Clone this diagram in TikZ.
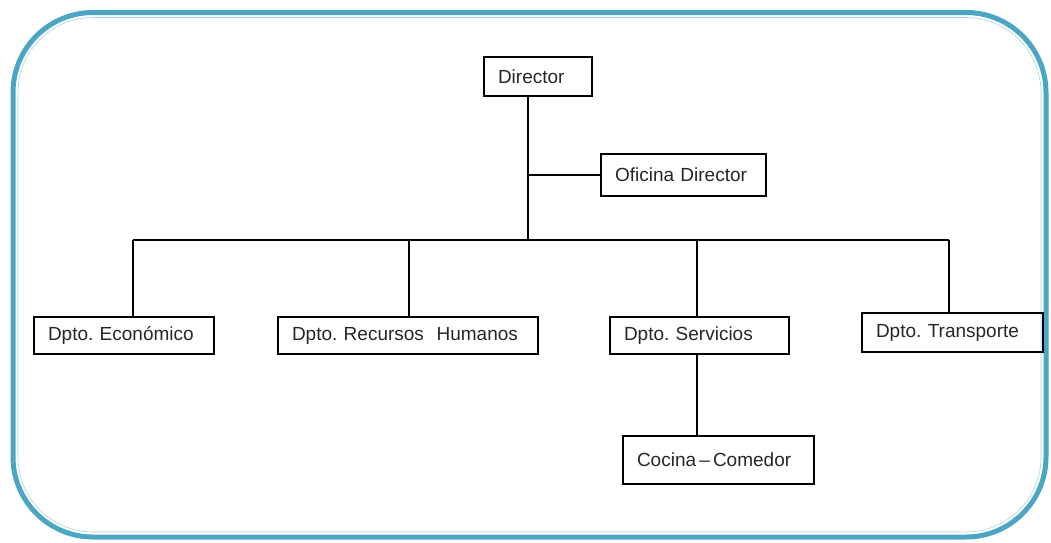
\documentclass[tikz,border=0pt]{standalone}
\usepackage{fontspec}
\setmainfont{Liberation Sans}
\definecolor{frameblue}{RGB}{75,165,195}
\definecolor{framelight}{RGB}{160,215,230}
\begin{document}
\frenchspacing
\begin{tikzpicture}[x=1pt,y=-1pt,
  box/.style={draw=black,line width=1.2pt,anchor=north west,inner xsep=14pt,inner ysep=0pt,
    outer sep=0pt,align=left,font=\fontsize{19}{21}\selectfont\frenchspacing,text=black!85},
  link/.style={draw=black,line width=1.2pt}]
\useasboundingbox (0,0) rectangle (1051,542);
% frame
\draw[frameblue,line width=5pt,rounded corners=80pt] (13,12.5) rectangle (1046,537);
\draw[white,line width=1pt,rounded corners=76pt] (17,16.5) rectangle (1042,533);
\draw[framelight,line width=0.6pt,rounded corners=75pt] (18,17.5) rectangle (1041,532);
% nodes
\node[box,text width=80pt,minimum height=39pt] (director) at (484,57) {Director};
\node[box,text width=137pt,minimum height=42pt] (oficina) at (601,154) {Oficina Director};
\node[box,text width=152pt,minimum height=37pt] (eco) at (34,317) {Dpto. Económico};
\node[box,text width=232pt,minimum height=37pt] (rh) at (278,317) {Dpto. Recursos\ \ Humanos};
\node[box,text width=151pt,minimum height=37pt] (serv) at (610,317) {Dpto. Servicios};
\node[box,text width=153pt,minimum height=39pt] (trans) at (862,313) {Dpto. Transporte};
\node[box,text width=163pt,minimum height=48pt] (cocina) at (623,436) {Cocina\,–\,Comedor\\[6pt]};
% connectors
\coordinate (dj) at (528,240);
\coordinate (eb) at (133,240);
\coordinate (rb) at (409,240);
\coordinate (sb) at (697,240);
\coordinate (tb) at (949,240);
\draw[link] (dj |- director.south) -- (dj);
\draw[link] (dj |- oficina.west) -- (oficina.west);
\draw[link] (eb) -- (tb);
\draw[link] (eb) -- (eb |- eco.north);
\draw[link] (rb) -- (rb |- rh.north);
\draw[link] (sb) -- (sb |- serv.north);
\draw[link] (tb) -- (tb |- trans.north);
\draw[link] (sb |- serv.south) -- (sb |- cocina.north);
\end{tikzpicture}
\end{document}
